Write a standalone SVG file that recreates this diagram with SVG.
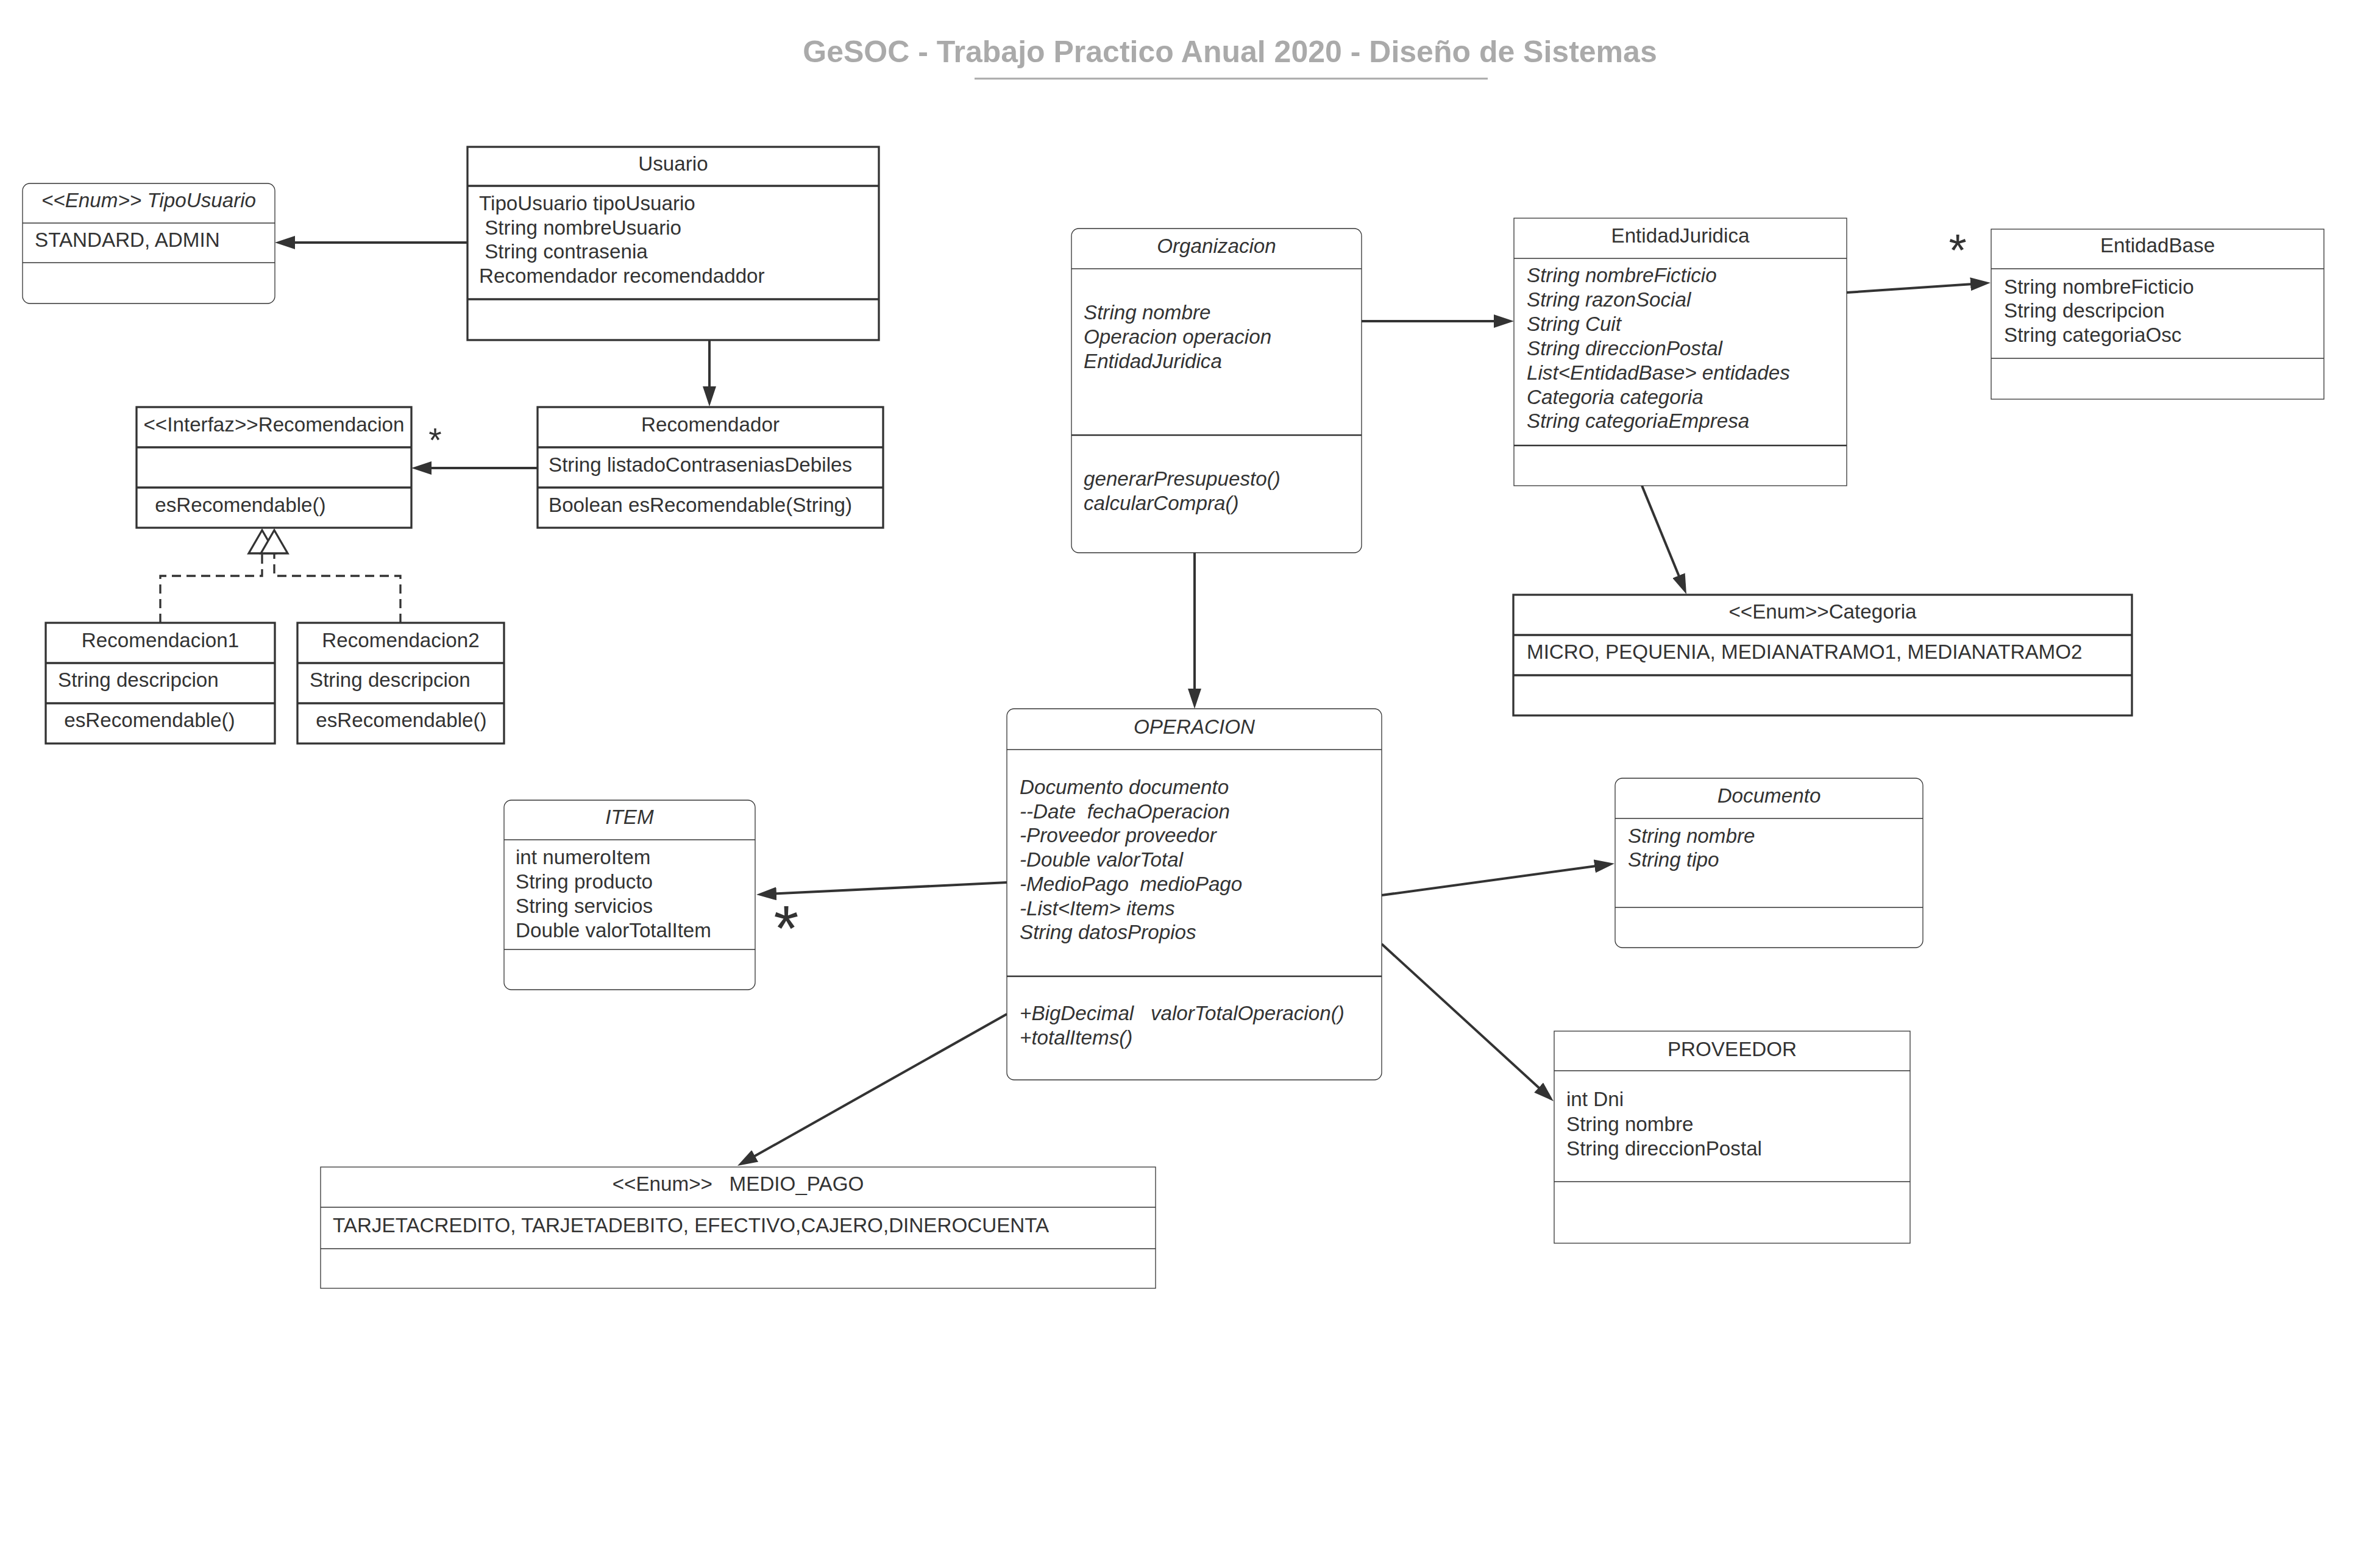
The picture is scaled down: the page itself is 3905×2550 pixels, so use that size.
<svg xmlns="http://www.w3.org/2000/svg" width="3905" height="2550" viewBox="0 0 3905 2550" xml:space="preserve">
<style>
text{font-family:"Liberation Sans",Arial,sans-serif;font-size:33.2px;fill:#333;white-space:pre}
.t{text-anchor:middle}
.i{font-style:italic}
.box{fill:#fff;stroke:#333}
.thick{stroke-width:3.3}
.thin{stroke-width:1.3}
.div{stroke:#333;fill:none}
.mid{stroke-width:2.5}
.conn{stroke:#333;stroke-width:4;fill:none;marker-end:url(#arrow)}
.dash{stroke:#333;stroke-width:3.3;fill:none;stroke-dasharray:15 9}
.real{fill:#fff;stroke:#333;stroke-width:3.3;stroke-linejoin:miter}
.star{text-anchor:middle;fill:#333}
.title{font-weight:bold;font-size:50px;fill:#aaa;text-anchor:middle}
</style>
<defs>
<marker id="arrow" markerUnits="userSpaceOnUse" markerWidth="34" markerHeight="22" refX="23" refY="11" orient="auto" viewBox="0 0 34 22">
<path d="M0,0 L33,11 L0,22 z" fill="#333"/>
</marker>
</defs>
<rect width="3905" height="2550" fill="#fff"/>

<!-- heading -->
<g id="heading">
<text class="title" x="2018" y="102">GeSOC - Trabajo Practico Anual 2020 - Diseño de Sistemas</text>
<line x1="1599" y1="129" x2="2441" y2="129" stroke="#aaa" stroke-width="3"/>
</g>

<!-- connectors -->
<g id="connectors">
<path class="conn" d="M767,398 L461,398"/>
<path class="conn" d="M1164,558 L1164,657"/>
<path class="conn" d="M882,768 L685,768"/>
<path class="conn" d="M2234,527 L2474,527"/>
<path class="conn" d="M3030,480 L3256,464.7"/>
<path class="conn" d="M2694,797 L2763.2,965.7"/>
<path class="conn" d="M1960,907 L1960,1153"/>
<path class="conn" d="M1652,1448 L1251,1467.5"/>
<path class="conn" d="M2267,1469 L2639.1,1418.3"/>
<path class="conn" d="M2267,1549 L2541.6,1800.2"/>
<path class="conn" d="M1652,1664 L1218.7,1908.1"/>
<!-- realizations -->
<path class="dash" d="M263,1022 V945 H430 V908"/>
<path class="dash" d="M657,1022 V945 H450 V908"/>
<path class="real" d="M430,870 L408,908 L452,908 Z"/>
<path class="real" d="M450,870 L428,908 L472,908 Z"/>
<!-- multiplicities -->
<text class="star" x="714" y="741" style="font-size:55px">*</text>
<text class="star" x="3212" y="436" style="font-size:75px">*</text>
<text class="star" x="1290" y="1560" style="font-size:105px">*</text>
</g>

<g id="tipo-usuario">
<rect class="box thin" x="37" y="301" width="414" height="197" rx="12"/>
<path class="div thin" d="M37,366H451M37,431H451"/>
<text class="t i" x="244" y="340">&lt;&lt;Enum&gt;&gt; TipoUsuario</text>
<text x="57" y="405">STANDARD, ADMIN</text>
</g>

<g id="usuario">
<rect class="box thick" x="767" y="241" width="675" height="317"/>
<path class="div thick" d="M767,305H1442M767,491H1442"/>
<text class="t" x="1104.5" y="280">Usuario</text>
<text x="786" y="345">TipoUsuario tipoUsuario</text>
<text x="786" y="385"> String nombreUsuario</text>
<text x="786" y="424"> String contrasenia</text>
<text x="786" y="464">Recomendador recomendaddor</text>
</g>

<g id="recomendador">
<rect class="box thick" x="882" y="668" width="567" height="198"/>
<path class="div thick" d="M882,734H1449M882,800H1449"/>
<text class="t" x="1165.5" y="708">Recomendador</text>
<text x="900" y="774">String listadoContraseniasDebiles</text>
<text x="900" y="840">Boolean esRecomendable(String)</text>
</g>

<g id="recomendacion">
<rect class="box thick" x="224" y="668" width="451" height="198"/>
<path class="div thick" d="M224,734H675M224,800H675"/>
<text class="t" x="449.5" y="708">&lt;&lt;Interfaz&gt;&gt;Recomendacion</text>
<text x="245" y="840"> esRecomendable()</text>
</g>

<g id="recomendacion1">
<rect class="box thick" x="75" y="1022" width="376" height="198"/>
<path class="div thick" d="M75,1088H451M75,1154H451"/>
<text class="t" x="263" y="1062">Recomendacion1</text>
<text x="95" y="1127">String descripcion</text>
<text x="96" y="1193"> esRecomendable()</text>
</g>

<g id="recomendacion2">
<rect class="box thick" x="488" y="1022" width="339" height="198"/>
<path class="div thick" d="M488,1088H827M488,1154H827"/>
<text class="t" x="657.5" y="1062">Recomendacion2</text>
<text x="508" y="1127">String descripcion</text>
<text x="509" y="1193"> esRecomendable()</text>
</g>

<g id="organizacion">
<rect class="box thin" x="1758" y="375" width="476" height="532" rx="12"/>
<path class="div thin" d="M1758,441H2234"/>
<path class="div mid" d="M1758,714H2234"/>
<text class="t i" x="1996" y="415">Organizacion</text>
<text class="i" x="1778" y="524">String nombre</text>
<text class="i" x="1778" y="564">Operacion operacion</text>
<text class="i" x="1778" y="604">EntidadJuridica</text>
<text class="i" x="1778" y="797">generarPresupuesto()</text>
<text class="i" x="1778" y="837">calcularCompra()</text>
</g>

<g id="entidad-juridica">
<rect class="box thin" x="2484" y="358" width="546" height="439"/>
<path class="div thin" d="M2484,424H3030"/>
<path class="div mid" d="M2484,731H3030"/>
<text class="t" x="2757" y="398">EntidadJuridica</text>
<text class="i" x="2505" y="463">String nombreFicticio</text>
<text class="i" x="2505" y="503">String razonSocial</text>
<text class="i" x="2505" y="543">String Cuit</text>
<text class="i" x="2505" y="583">String direccionPostal</text>
<text class="i" x="2505" y="623">List&lt;EntidadBase&gt; entidades</text>
<text class="i" x="2505" y="663">Categoria categoria</text>
<text class="i" x="2505" y="702">String categoriaEmpresa</text>
</g>

<g id="entidad-base">
<rect class="box thin" x="3267" y="376" width="546" height="279"/>
<path class="div thin" d="M3267,441H3813M3267,588H3813"/>
<text class="t" x="3540" y="414">EntidadBase</text>
<text x="3288" y="482">String nombreFicticio</text>
<text x="3288" y="521">String descripcion</text>
<text x="3288" y="561">String categoriaOsc</text>
</g>

<g id="categoria">
<rect class="box thick" x="2483" y="976" width="1015" height="198"/>
<path class="div thick" d="M2483,1042H3498M2483,1108H3498"/>
<text class="t" x="2990.5" y="1015">&lt;&lt;Enum&gt;&gt;Categoria</text>
<text x="2505" y="1081">MICRO, PEQUENIA, MEDIANATRAMO1, MEDIANATRAMO2</text>
</g>

<g id="operacion">
<rect class="box thin" x="1652" y="1163" width="615" height="609" rx="12"/>
<path class="div thin" d="M1652,1230H2267"/>
<path class="div mid" d="M1652,1602H2267"/>
<text class="t i" x="1959.5" y="1204">OPERACION</text>
<text class="i" x="1673" y="1303">Documento documento</text>
<text class="i" x="1673" y="1343">--Date  fechaOperacion</text>
<text class="i" x="1673" y="1382">-Proveedor proveedor</text>
<text class="i" x="1673" y="1422">-Double valorTotal</text>
<text class="i" x="1673" y="1462">-MedioPago  medioPago</text>
<text class="i" x="1673" y="1502">-List&lt;Item&gt; items</text>
<text class="i" x="1673" y="1541">String datosPropios</text>
<text class="i" x="1673" y="1674">+BigDecimal   valorTotalOperacion()</text>
<text class="i" x="1673" y="1714">+totalItems()</text>
</g>

<g id="item">
<rect class="box thin" x="827" y="1313" width="412" height="311" rx="12"/>
<path class="div thin" d="M827,1378H1239M827,1558H1239"/>
<text class="t i" x="1033" y="1352">ITEM</text>
<text x="846" y="1418">int numeroItem</text>
<text x="846" y="1458">String producto</text>
<text x="846" y="1498">String servicios</text>
<text x="846" y="1538">Double valorTotalItem</text>
</g>

<g id="documento">
<rect class="box thin" x="2650" y="1277" width="505" height="278" rx="12"/>
<path class="div thin" d="M2650,1343H3155M2650,1489H3155"/>
<text class="t i" x="2902.5" y="1317">Documento</text>
<text class="i" x="2671" y="1383">String nombre</text>
<text class="i" x="2671" y="1422">String tipo</text>
</g>

<g id="proveedor">
<rect class="box thin" x="2550" y="1692" width="584" height="348"/>
<path class="div thin" d="M2550,1757H3134M2550,1939H3134"/>
<text class="t" x="2842" y="1733">PROVEEDOR</text>
<text x="2570" y="1815">int Dni</text>
<text x="2570" y="1856">String nombre</text>
<text x="2570" y="1896">String direccionPostal</text>
</g>

<g id="medio-pago">
<rect class="box thin" x="526" y="1915" width="1370" height="199"/>
<path class="div thin" d="M526,1981H1896M526,2049H1896"/>
<text class="t" x="1211" y="1954">&lt;&lt;Enum&gt;&gt;   MEDIO_PAGO</text>
<text x="546" y="2022">TARJETACREDITO, TARJETADEBITO, EFECTIVO,CAJERO,DINEROCUENTA</text>
</g>
</svg>
